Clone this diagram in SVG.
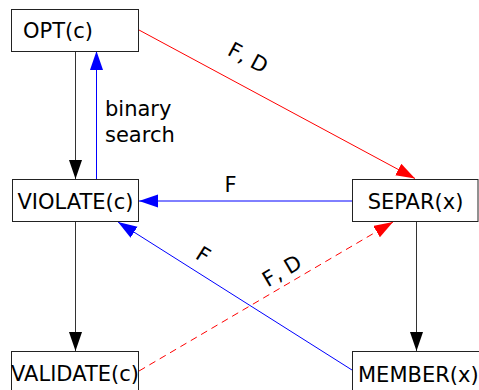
<svg xmlns="http://www.w3.org/2000/svg" width="479" height="390" viewBox="0 0 479 390">
<style>
.box{fill:#fff;stroke:#222;stroke-width:1}
.lbl{font-family:"DejaVu Sans",sans-serif;font-size:21px;fill:#000}
.blk{stroke:#333;stroke-width:1;fill:none}
.blu{stroke:#0000ff;stroke-width:1;fill:none}
.red{stroke:#ff0000;stroke-width:1;fill:none}
.dash{stroke-dasharray:7,5}
</style>
<defs>
<marker id="ak" markerUnits="userSpaceOnUse" markerWidth="20" markerHeight="14" refX="19" refY="6.5" orient="auto"><path d="M0,0 L19,6.5 L0,13 z" fill="#000" stroke="none"/></marker>
<marker id="ab" markerUnits="userSpaceOnUse" markerWidth="20" markerHeight="14" refX="19" refY="6.5" orient="auto"><path d="M0,0 L19,6.5 L0,13 z" fill="#0000ff" stroke="none"/></marker>
<marker id="ar" markerUnits="userSpaceOnUse" markerWidth="20" markerHeight="14" refX="19" refY="6.5" orient="auto"><path d="M0,0 L19,6.5 L0,13 z" fill="#ff0000" stroke="none"/></marker>
</defs>
<g id="connectors">
<line class="blk" x1="75.5" y1="51" x2="75.5" y2="179" marker-end="url(#ak)"/>
<line class="blu" x1="96.5" y1="179" x2="96.5" y2="51" marker-end="url(#ab)"/>
<text class="lbl" x="105" y="116">binary</text>
<text class="lbl" x="105" y="142">search</text>
<line class="blk" x1="75.5" y1="222" x2="75.5" y2="351" marker-end="url(#ak)"/>
<line class="blk" x1="416.5" y1="222" x2="416.5" y2="351" marker-end="url(#ak)"/>
<line class="red" x1="139" y1="30" x2="415" y2="178.5" marker-end="url(#ar)"/>
<text class="lbl" text-anchor="middle" transform="translate(248,58) rotate(28.2)" x="0" y="7">F, D</text>
<line class="blu" x1="352" y1="201" x2="139" y2="201" marker-end="url(#ab)"/>
<text class="lbl" text-anchor="middle" x="230.5" y="192">F</text>
<line class="blu" x1="352" y1="370" x2="118" y2="222" marker-end="url(#ab)"/>
<text class="lbl" text-anchor="middle" transform="translate(203,255) rotate(32.2)" x="0" y="7">F</text>
<line class="red dash" x1="139" y1="371" x2="393" y2="222" marker-end="url(#ar)"/>
<text class="lbl" text-anchor="middle" transform="translate(282,271) rotate(-30.6)" x="0" y="7">F, D</text>
</g>
<g id="opt">
<rect class="box" x="11.5" y="9.5" width="127" height="42"/>
<text class="lbl" x="23" y="37.5">OPT(c)</text>
</g>
<g id="violate">
<rect class="box" x="12.5" y="179.5" width="126" height="42"/>
<text class="lbl" text-anchor="middle" x="75.5" y="208.5">VIOLATE(c)</text>
</g>
<g id="separ">
<rect class="box" x="352.5" y="179.5" width="125.5" height="42"/>
<text class="lbl" text-anchor="middle" x="415.5" y="208.5">SEPAR(x)</text>
</g>
<g id="validate">
<rect class="box" x="11.5" y="351.5" width="127" height="50"/>
<text class="lbl" text-anchor="middle" x="75" y="381">VALIDATE(c)</text>
</g>
<g id="member">
<rect class="box" x="352.5" y="351.5" width="140" height="50"/>
<text class="lbl" x="358" y="381.5">MEMBER(x)</text>
</g>
</svg>
